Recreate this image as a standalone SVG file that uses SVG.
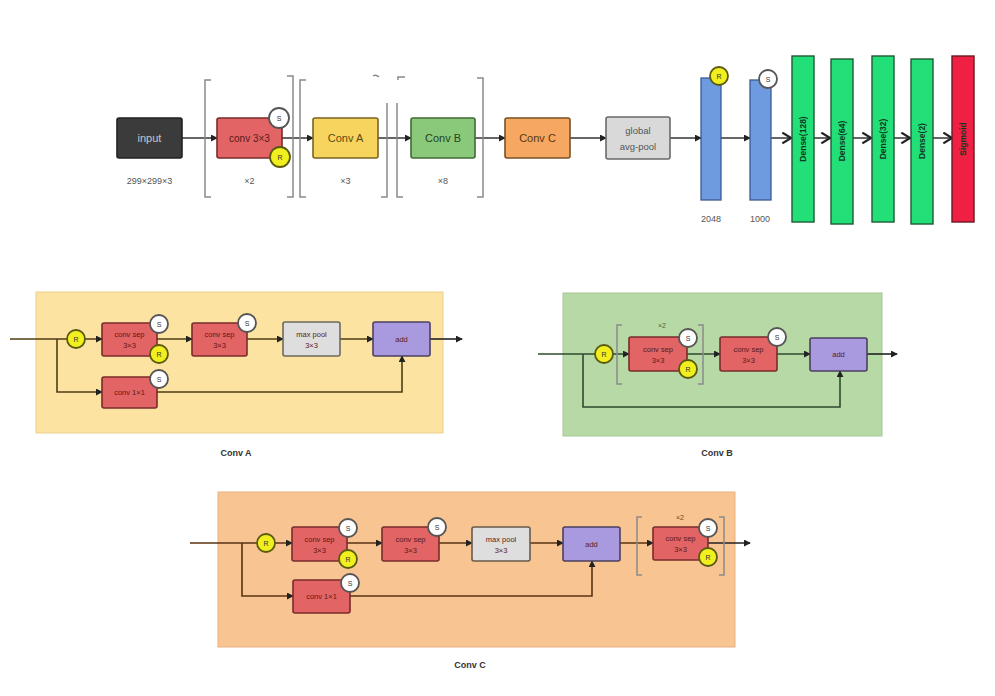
<svg xmlns="http://www.w3.org/2000/svg" width="995" height="696" viewBox="0 0 995 696">
<style>
text{font-family:"Liberation Sans",Arial,sans-serif;text-anchor:middle;dominant-baseline:central}
.box{stroke-width:1.6}
.red{fill:#e26464;stroke:#7a2b2b}
.t{font-size:11px}
.s{font-size:7.5px;fill:#5a1a1a}
.lbl{font-size:9px;fill:#555}
.brk{fill:none;stroke:#8a8a8a;stroke-width:1.5}
.ln{fill:none;stroke:#333;stroke-width:1.5}
.lnA{fill:none;stroke:#4d3d12;stroke-width:1.6}
.lnB{fill:none;stroke:#2e4a2e;stroke-width:1.6}
.lnC{fill:none;stroke:#5a3212;stroke-width:1.6}
.cs{fill:#fff;stroke:#555;stroke-width:1.8}
.cr{fill:#f2ef1e;stroke:#5a5a10;stroke-width:1.8}
.ct{font-size:7px;fill:#333}
.dense{fill:#22df78;stroke:#1d5a35;stroke-width:1.4}
.vt{font-size:8.5px;font-weight:bold;fill:#0d3a1e}
.title{font-size:9px;font-weight:bold;fill:#333}
</style>
<defs>
<marker id="ah" viewBox="0 0 8 8" refX="7" refY="4" markerWidth="7" markerHeight="7" markerUnits="userSpaceOnUse" orient="auto"><path d="M0,0 L8,4 L0,8 z" fill="#222"/></marker>
<marker id="chev" viewBox="0 0 10 12" refX="9" refY="6" markerWidth="11" markerHeight="13" markerUnits="userSpaceOnUse" orient="auto"><path d="M1,1 L9,6 L1,11" fill="none" stroke="#222" stroke-width="2"/></marker>
</defs>

<!-- connectors -->
<g id="connectors">
<g class="ln">
<line x1="182" y1="138" x2="217" y2="138" marker-end="url(#ah)"/>
<line x1="282" y1="138" x2="313" y2="138" marker-end="url(#ah)"/>
<line x1="378" y1="138" x2="411" y2="138" marker-end="url(#ah)"/>
<line x1="475" y1="138" x2="505" y2="138" marker-end="url(#ah)"/>
<line x1="570" y1="138" x2="606" y2="138" marker-end="url(#ah)"/>
<line x1="670" y1="138" x2="701" y2="138" marker-end="url(#ah)"/>
<line x1="721" y1="138" x2="750" y2="138" marker-end="url(#ah)"/>
<line x1="771" y1="138" x2="791" y2="138" marker-end="url(#chev)"/>
<line x1="814" y1="138" x2="830" y2="138" marker-end="url(#chev)"/>
<line x1="853" y1="138" x2="871" y2="138" marker-end="url(#chev)"/>
<line x1="894" y1="138" x2="910" y2="138" marker-end="url(#chev)"/>
<line x1="933" y1="138" x2="952" y2="138" marker-end="url(#chev)"/>
</g>
</g>

<!-- top row -->
<g id="input"><rect x="117" y="118" width="65" height="40" rx="2" fill="#3b3b3b" stroke="#222" class="box"/><text x="149.5" y="138" class="t" fill="#c8c8c8">input</text><text x="149.5" y="181" class="lbl">299×299×3</text></g>

<g id="brackets-top" class="brk">
<path d="M211 80 H205 V197 H211"/>
<path d="M287 76 H293 V197 H287"/>
<path d="M306 80 H300 V197 H306"/>
<path d="M381 197 H387 V103"/><path d="M373 76 q3 -2 6 1"/>
<path d="M403 197 H397 V103"/><path d="M398 80 V77 H405"/>
<path d="M477 78 H483 V197 H477"/>
</g>

<g id="conv3x3"><rect x="217" y="118" width="65" height="40" rx="2" class="box red"/><text x="249.5" y="138" font-size="10" fill="#5a1a1a">conv 3×3</text>
<circle cx="279" cy="118" r="10" class="cs"/><text x="279" y="118" class="ct">S</text>
<circle cx="280" cy="157" r="10" class="cr"/><text x="280" y="157" class="ct">R</text>
<text x="249.5" y="181" class="lbl">×2</text></g>

<g id="convA-top"><rect x="313" y="118" width="65" height="40" rx="2" fill="#f7d45e" stroke="#7a6420" class="box"/><text x="345.5" y="138" class="t" fill="#5a4a10">Conv A</text><text x="345.5" y="181" class="lbl">×3</text></g>
<g id="convB-top"><rect x="411" y="118" width="64" height="40" rx="2" fill="#8bc97a" stroke="#3f6a35" class="box"/><text x="443" y="138" class="t" fill="#23431d">Conv B</text><text x="443" y="181" class="lbl">×8</text></g>
<g id="convC-top"><rect x="505" y="118" width="65" height="40" rx="2" fill="#f6a863" stroke="#7a5025" class="box"/><text x="537.5" y="138" class="t" fill="#5a3510">Conv C</text></g>
<g id="gap"><rect x="606" y="117" width="64" height="42" rx="2" fill="#d9d9d9" stroke="#6a6a6a" class="box"/><text x="638" y="130" font-size="9.5" fill="#555">global</text><text x="638" y="146" font-size="9.5" fill="#555">avg-pool</text></g>

<g id="fc2048"><rect x="701" y="78" width="20" height="122" fill="#6e9be0" stroke="#3b5a90" stroke-width="1.3"/><circle cx="719" cy="76" r="9" class="cr"/><text x="719" y="76" class="ct">R</text><text x="711" y="219" class="lbl">2048</text></g>
<g id="fc1000"><rect x="750" y="80" width="21" height="120" fill="#6e9be0" stroke="#3b5a90" stroke-width="1.3"/><circle cx="768" cy="79" r="9" class="cs"/><text x="768" y="79" class="ct">S</text><text x="760" y="219" class="lbl">1000</text></g>

<g id="dense128"><rect x="792" y="56" width="22" height="166" class="dense"/><text transform="translate(803,139) rotate(-90)" class="vt">Dense(128)</text></g>
<g id="dense64"><rect x="831" y="59" width="22" height="165" class="dense"/><text transform="translate(842,141) rotate(-90)" class="vt">Dense(64)</text></g>
<g id="dense32"><rect x="872" y="56" width="22" height="166" class="dense"/><text transform="translate(883,139) rotate(-90)" class="vt">Dense(32)</text></g>
<g id="dense2"><rect x="911" y="59" width="22" height="165" class="dense"/><text transform="translate(922,141) rotate(-90)" class="vt">Dense(2)</text></g>
<g id="sigmoid"><rect x="952" y="56" width="22" height="166" fill="#f01f44" stroke="#6a1a22" stroke-width="1.4"/><text transform="translate(963,139) rotate(-90)" class="vt" fill="#5a0a15">Sigmoid</text></g>

<!-- Conv A panel -->
<g id="panelA">
<rect x="36" y="292" width="407" height="141" fill="#fde3a2" stroke="#ead08a" stroke-width="1"/>
<text x="236" y="453" class="title">Conv A</text>
</g>
<g id="panelA-connectors" class="lnA">
<line x1="10" y1="339" x2="102" y2="339" marker-end="url(#ah)"/>
<path d="M57 339 V392 H102" marker-end="url(#ah)"/>
<line x1="157" y1="339" x2="192" y2="339" marker-end="url(#ah)"/>
<line x1="247" y1="339" x2="283" y2="339" marker-end="url(#ah)"/>
<line x1="340" y1="339" x2="373" y2="339" marker-end="url(#ah)"/>
<line x1="430" y1="339" x2="462" y2="339" marker-end="url(#ah)" stroke="#222"/>
<path d="M157 392 H402 V356" marker-end="url(#ah)"/>
</g>
<g id="A-R"><circle cx="76" cy="339" r="9" class="cr"/><text x="76" y="339" class="ct">R</text></g>
<g id="A-sep1"><rect x="102" y="323" width="55" height="33" rx="2" class="box red"/><text x="129.5" y="334" class="s">conv sep</text><text x="129.5" y="345" class="s">3×3</text>
<circle cx="159" cy="324" r="9" class="cs"/><text x="159" y="324" class="ct">S</text><circle cx="159" cy="354" r="9" class="cr"/><text x="159" y="354" class="ct">R</text></g>
<g id="A-sep2"><rect x="192" y="323" width="55" height="33" rx="2" class="box red"/><text x="219.5" y="334" class="s">conv sep</text><text x="219.5" y="345" class="s">3×3</text>
<circle cx="247" cy="323" r="9" class="cs"/><text x="247" y="323" class="ct">S</text></g>
<g id="A-pool"><rect x="283" y="322" width="57" height="34" rx="2" fill="#dedede" stroke="#6a6a5a" class="box"/><text x="311.5" y="334" class="s" fill="#555">max pool</text><text x="311.5" y="345" class="s" fill="#555">3×3</text></g>
<g id="A-add"><rect x="373" y="322" width="57" height="34" rx="2" fill="#a99ae0" stroke="#4a4060" class="box"/><text x="401.5" y="339" class="s" fill="#3a3060">add</text></g>
<g id="A-1x1"><rect x="102" y="377" width="55" height="31" rx="2" class="box red"/><text x="129.5" y="392.5" class="s">conv 1×1</text>
<circle cx="159" cy="379" r="9" class="cs"/><text x="159" y="379" class="ct">S</text></g>

<!-- Conv B panel -->
<g id="panelB">
<rect x="563" y="293" width="319" height="143" fill="#b6d9a6" stroke="#a3c893" stroke-width="1"/>
<text x="717" y="453" class="title">Conv B</text>
</g>
<g id="panelB-connectors" class="lnB">
<line x1="538" y1="354" x2="629" y2="354" marker-end="url(#ah)"/>
<path d="M583 354 V407 H840 V371" marker-end="url(#ah)"/>
<line x1="687" y1="354" x2="720" y2="354" marker-end="url(#ah)"/>
<line x1="777" y1="354" x2="810" y2="354" marker-end="url(#ah)"/>
<line x1="867" y1="354" x2="897" y2="354" marker-end="url(#ah)" stroke="#222"/>
</g>
<g id="B-R"><circle cx="604" cy="354" r="9" class="cr"/><text x="604" y="354" class="ct">R</text></g>
<g id="B-bracket" class="brk"><path d="M622 325 H617 V384 H622"/><path d="M698 325 H703 V384 H698"/><text x="662" y="325" font-size="7" fill="#4a6a40" stroke="none">×2</text></g>
<g id="B-sep1"><rect x="629" y="337" width="58" height="34" rx="2" class="box red"/><text x="658" y="349" class="s">conv sep</text><text x="658" y="360" class="s">3×3</text>
<circle cx="688" cy="338" r="9" class="cs"/><text x="688" y="338" class="ct">S</text><circle cx="688" cy="369" r="9" class="cr"/><text x="688" y="369" class="ct">R</text></g>
<g id="B-sep2"><rect x="720" y="337" width="57" height="34" rx="2" class="box red"/><text x="748.5" y="349" class="s">conv sep</text><text x="748.5" y="360" class="s">3×3</text>
<circle cx="777" cy="337" r="9" class="cs"/><text x="777" y="337" class="ct">S</text></g>
<g id="B-add"><rect x="810" y="338" width="57" height="33" rx="2" fill="#a99ae0" stroke="#4a4060" class="box"/><text x="838.5" y="354.5" class="s" fill="#3a3060">add</text></g>

<!-- Conv C panel -->
<g id="panelC">
<rect x="218" y="492" width="517" height="155" fill="#f8c492" stroke="#e8b07e" stroke-width="1"/>
<text x="470" y="665" class="title">Conv C</text>
</g>
<g id="panelC-connectors" class="lnC">
<line x1="190" y1="543" x2="292" y2="543" marker-end="url(#ah)"/>
<path d="M242 543 V596 H293" marker-end="url(#ah)"/>
<line x1="347" y1="543" x2="382" y2="543" marker-end="url(#ah)"/>
<line x1="439" y1="543" x2="472" y2="543" marker-end="url(#ah)"/>
<line x1="530" y1="543" x2="563" y2="543" marker-end="url(#ah)"/>
<line x1="620" y1="543" x2="653" y2="543" marker-end="url(#ah)"/>
<line x1="708" y1="543" x2="750" y2="543" marker-end="url(#ah)" stroke="#222"/>
<path d="M350 596 H592 V561" marker-end="url(#ah)"/>
</g>
<g id="C-R"><circle cx="266" cy="543" r="9" class="cr"/><text x="266" y="543" class="ct">R</text></g>
<g id="C-sep1"><rect x="292" y="527" width="55" height="34" rx="2" class="box red"/><text x="319.5" y="539" class="s">conv sep</text><text x="319.5" y="550" class="s">3×3</text>
<circle cx="348" cy="528" r="9" class="cs"/><text x="348" y="528" class="ct">S</text><circle cx="348" cy="559" r="9" class="cr"/><text x="348" y="559" class="ct">R</text></g>
<g id="C-sep2"><rect x="382" y="527" width="57" height="34" rx="2" class="box red"/><text x="410.5" y="539" class="s">conv sep</text><text x="410.5" y="550" class="s">3×3</text>
<circle cx="437" cy="527" r="9" class="cs"/><text x="437" y="527" class="ct">S</text></g>
<g id="C-pool"><rect x="472" y="527" width="58" height="34" rx="2" fill="#dedede" stroke="#6a5a4a" class="box"/><text x="501" y="539" class="s" fill="#555">max pool</text><text x="501" y="550" class="s" fill="#555">3×3</text></g>
<g id="C-add"><rect x="563" y="527" width="57" height="34" rx="2" fill="#a99ae0" stroke="#4a4060" class="box"/><text x="591.5" y="544" class="s" fill="#3a3060">add</text></g>
<g id="C-1x1"><rect x="293" y="580" width="57" height="33" rx="2" class="box red"/><text x="321.5" y="596.5" class="s">conv 1×1</text>
<circle cx="350" cy="583" r="9" class="cs"/><text x="350" y="583" class="ct">S</text></g>
<g id="C-bracket" class="brk"><path d="M642 517 H637 V575 H642"/><path d="M719 517 H724 V575 H719"/><text x="680" y="517" font-size="7" fill="#6a4a30" stroke="none">×2</text></g>
<g id="C-sep3"><rect x="653" y="527" width="55" height="33" rx="2" class="box red"/><text x="680.5" y="538" class="s">conv sep</text><text x="680.5" y="549" class="s">3×3</text>
<circle cx="708" cy="528" r="9" class="cs"/><text x="708" y="528" class="ct">S</text><circle cx="708" cy="557" r="9" class="cr"/><text x="708" y="557" class="ct">R</text></g>
</svg>
